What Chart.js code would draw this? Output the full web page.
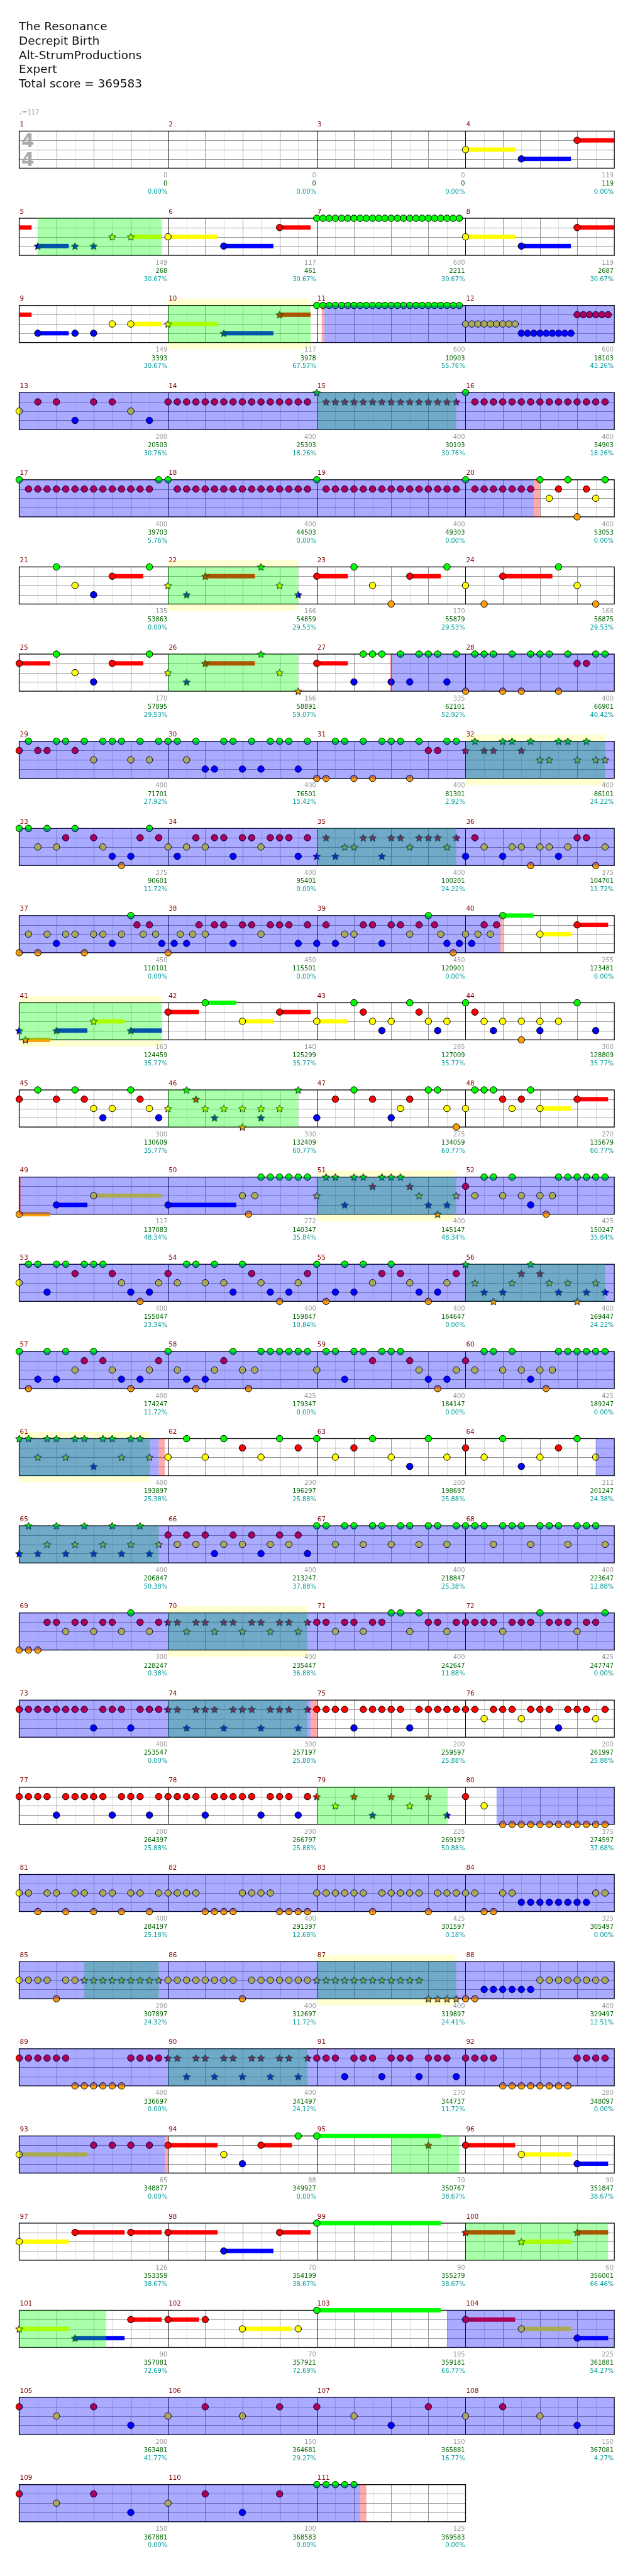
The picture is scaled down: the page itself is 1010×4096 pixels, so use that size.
<!DOCTYPE html>
<html>
<head>
<meta charset="utf-8">
<script src="https://cdn.jsdelivr.net/npm/chart.js@4.4.1/dist/chart.umd.min.js"></script>
<style>
  html, body { margin: 0; padding: 0; background: #fff; }
  canvas { display: block; }
</style>
</head>
<body>
<canvas id="chart" width="1010" height="4096"></canvas>
<script>
// ---- song info ----
const TITLE_LINES = ['The Resonance', 'Decrepit Birth', 'Alt-StrumProductions', 'Expert', 'Total score = 369583'];
const TEMPO = 117;
const MEASURE_COUNT = 111;

// notes per measure: "<tick><frets><sustain ticks>", 12 ticks per beat, 48 per measure
// frets: G R Y B O
const NOTES = [
  '', '', '', '0Y16 18B16 36R16',
  '6B10 18B 24B 30Y 36Y10', '0Y16 18B16 36R10',
  '0G 2G 4G 6G 8G 10G 12G 14G 16G 18G 20G 22G 24G 26G 28G 30G 32G 34G 36G 38G 40G 42G 44G 46G',
  '0Y16 18B16 36R16',
  '6B10 18B 24B 30Y 36Y10', '0Y16 18B16 36R10',
  '0G 2G 4G 6G 8G 10G 12G 14G 16G 18G 20G 22G 24G 26G 28G 30G 32G 34G 36G 38G 40G 42G 44G 46G',
  '0Y 2Y 4Y 6Y 8Y 10Y 12Y 14Y 16Y 18B 20B 22B 24B 26B 28B 30B 32B 34B 36R 38R 40R 42R 44R 46R',
  '0Y 6R 12R 18B 24R 30R 36Y 42B',
  '0R 3R 6R 9R 12R 15R 18R 21R 24R 27R 30R 33R 36R 39R 42R 45R',
  '0G 3R 6R 9R 12R 15R 18R 21R 24R 27R 30R 33R 36R 39R 42R 45R',
  '0G 3R 6R 9R 12R 15R 18R 21R 24R 27R 30R 33R 36R 39R 42R 45R',
  '0G 3R 6R 9R 12R 15R 18R 21R 24R 27R 30R 33R 36R 39R 42R 45G',
  '0G 3R 6R 9R 12R 15R 18R 21R 24R 27R 30R 33R 36R 39R 42R 45R',
  '0G 3R 6R 9R 12R 15R 18R 21R 24R 27R 30R 33R 36R 39R 42R 45R',
  '0G 3R 6R 9R 12R 15R 18R 21R 24G 27Y 30R 33G 36O 39R 42Y 45G',
  '12G 18Y 24B 30R10 42G', '0Y 6B 12R16 30G 36Y 42B',
  '0R10 12G 18Y 24O 30R10 42G', '0Y 6O 12R16 30G 36Y 42O',
  '0R10 12G 18Y 24B 30R10 42G', '0Y 6B 12R16 30G 36Y 42O',
  '0R10 12B 15G 18G 21G 24B 27G 30B 33G 36G 39G 42B 45G',
  '0O 3G 6G 9G 12O 15G 18O 21G 24G 27G 30O 33G 36R 39R 42G 45G',
  '0R 3G 6R 9R 12G 15G 18R 21G 24Y 27G 30G 33G 36Y 39G 42Y 45G',
  '0G 3G 6Y 9G 12B 15B 18G 21G 24B 27G 30B 33G 36G 39G 42B 45G',
  '0O 3O 6G 9G 12O 15G 18O 21G 24G 27G 30O 33G 36R 39R 42G 45G',
  '0R 3G 6R 9R 12G 15G 18R 21G 24Y 27Y 30G 33G 36Y 39G 42Y 45Y',
  '0G 3G 6Y 9G 12Y 15R 18G 24R 27Y 30B 33O 36B 39R 42G 45R',
  '0Y 3B 6Y 9R 12Y 15R 18R 21B 24R 27R 30Y 33R 36R 39R 42B 45R',
  '0B 3R 6B 9Y 12Y 15R 18R 21B 24R 27R 30Y 33R 36R 39R 42Y 45R',
  '0B 3R 6Y 12B 15Y 18Y 21O 24Y 27Y 30B 33Y 36R 39R 42O 45Y',
  '0O 3Y 6O 9Y 12B 15Y 18Y 21O 24Y 27Y 30B 33Y 36G 38R 40Y 42R 44Y 46B',
  '0O 2B 4Y 6B 8Y 10R 12Y 15R 18R 21B 24R 27R 30Y 33R 36R 39R 42B 45R',
  '0B 3R 6B 9Y 12Y 15R 18R 21B 24R 27R 30Y 33R 36G 38R 40Y 42B 44O 46B',
  '0Y 2B 4Y 6R 8Y 10R 12G10 24Y10 36R10',
  '0B 2O8 12B10 24Y10 36B10', '0R10 12G10 24Y10 36R10',
  '0Y10 12G 15R 18Y 21B 24Y 30G 33R 36Y 39B 42Y',
  '0G 3R 6Y 9B 12Y 18OY 24BY 30Y 36G 42B',
  '0R 6G 12R 18G 21R 24Y 27B 30Y 36G 39R 42Y 45B',
  '0Y 6G 9R 12Y 15B 18Y 24YO 30YB 36Y 42G',
  '0B 6R 12G 18R 24B 27Y 30R 36G 39G 42Y 45O',
  '0Y 3G 6G 9G 12R 15Y 18R 21G 24Y10 36R10',
  '0O10 12B10 24Y22',
  '0B22 24Y 26O 28Y 30G 33G 36G 39G 42G 45G',
  '0Y 3G 6G 9B 12G 15G 18R 21G 24G 27G 30R 33Y 36B 39O 42B 45Y',
  '0R 3Y 6G 9G 12Y 15G 18Y 21B 24Y 26O 28Y 30G 33G 36G 39G 42G 45G',
  '0Y 3G 6G 9B 12G 15G 18R 21G 24G 27G 30R 33Y 36B 39O 42B 45Y',
  '0R 3Y 6G 9G 12Y 15G 18Y 21B 24G 27R 30Y 33B 36O 39B 42Y 45R',
  '0G 3O 6B 9G 12B 15G 18Y 21R 24G 27R 30Y 33B 36O 39B 42Y 45R',
  '0G 3Y 6B 9O 12B 15Y 18R 21G 24R 27Y 30B 33Y 36O 39B 42Y 45B',
  '0G 3O 6B 9G 12B 15G 18Y 21R 24G 27R 30Y 33B 36O 39B 42Y 45R',
  '0G 3Y 6B 9O 12B 15Y 18R 21G 24Y 26O 28Y 30G 33G 36G 39G 42G 45G',
  '0Y 3G 6G 9B 12G 15G 18R 21G 24G 27G 30R 33Y 36B 39O 42B 45Y',
  '0R 3Y 6G 9G 12Y 15G 18Y 21B 24Y 26O 28Y 30G 33G 36G 39G 42G 45G',
  // 61-64
  '0G 3G 6Y 9G 12G 15Y 18G 21G 24B 27G 30G 33Y 36G 39G 42Y',
  '0Y 6G 12Y 18G 24R 30Y 36G 42R',
  '0G 6Y 12R 18G 24Y 30B 36G 42Y',
  '0R 6Y 12G 18B 24Y 30R 36G 42Y',
  // 65-68
  '0B 3G 6B 9Y 12G 15B 18Y 21G 24B 27Y 30G 33B 36Y 39G 42B 45Y',
  '0R 3Y 6R 9Y 12R 15B 18Y 21R 24Y 27R 30B 33Y 36R 39Y 42R 45B',
  '0G 3G 6Y 9G 12G 15Y 18G 21G 24Y 27G 30G 33Y 36G 39G 42Y 45G',
  '0G 3G 6G 9Y 12G 15G 18G 21Y 24G 27G 30G 33Y 36G 39G 42G 45Y',
  // 69-72
  '0O 3O 6O 9R 12R 15Y 18R 21R 24Y 27R 30R 33Y 36G 39R 42Y 45R',
  '0R 3R 6Y 9R 12R 15Y 18R 21R 24Y 27R 30R 33Y 36R 39R 42Y 45R',
  '0R 3R 6Y 9R 12R 15Y 18R 21R 24G 27G 30Y 33G 36R 39R 42Y 45R',
  '0R 3R 6R 9R 12Y 15R 18R 21R 24G 27R 30R 33R 36Y 39R 42R 45G',
  // 73-76
  '0R 3R 6R 9R 12R 15R 18R 21R 24B 27R 30R 33R 36B 39R 42R 45R',
  '0R 3R 6B 9R 12R 15R 18B 21R 24R 27R 30B 33R 36R 39R 42B 45R',
  '0R 3R 6R 9R 12B 15R 18R 21R 24R 27R 30B 33R 36R 39R 42R 45R',
  '0R 3R 6Y 9R 12R 15R 18Y 21R 24R 27R 30B 33R 36R 39R 42Y 45R',
  // 77-80
  '0R 3R 6R 9R 12B 15R 18R 21R 24R 27R 30B 33R 36R 39R 42B 45R',
  '0R 3R 6R 9R 12B 15R 18R 21R 24R 27R 30B 33R 36R 39R 42B 45R',
  '0R 6Y 12R 18B 24R 30Y 36R 42B',
  '0R 6Y 12O 15O 18O 21O 24O 27O 30O 33O 36O 39O 42O 45O',
  // 81-84
  '0Y 3Y 6O 9Y 12Y 15O 18Y 21Y 24O 27Y 30Y 33O 36Y 39Y 42O 45Y',
  '0Y 3Y 6Y 9Y 12O 15O 18O 21O 24Y 27Y 30Y 33Y 36O 39O 42O 45O',
  '0Y 3Y 6Y 9Y 12Y 15Y 18O 21Y 24Y 27Y 30Y 33Y 36O 39Y 42Y 45Y',
  '0Y 3Y 6O 9O 12Y 15Y 18B 21B 24B 27B 30B 33B 36B 39B 42Y 45Y',
  // 85-88
  '0Y 3Y 6Y 9Y 12O 15Y 18Y 21Y 24Y 27Y 30Y 33Y 36Y 39Y 42Y 45Y',
  '0Y 3Y 6Y 9Y 12Y 15Y 18Y 21Y 24O 27Y 30Y 33Y 36Y 39Y 42Y 45Y',
  '0Y 3Y 6Y 9Y 12Y 15Y 18Y 21Y 24Y 27Y 30Y 33Y 36O 39O 42O 45O',
  '0O 3O 6B 9B 12B 15B 18B 21B 24Y 27Y 30Y 33Y 36Y 39Y 42Y 45Y',
  // 89-92
  '0R 3R 6R 9R 12R 15R 18O 21O 24O 27O 30O 33O 36R 39R 42R 45R',
  '0R 3R 6B 9R 12R 15B 18R 21R 24B 27R 30R 33B 36R 39R 42B 45R',
  '0R 3R 6R 9B 12R 15R 18R 21B 24R 27R 30R 33B 36R 39R 42R 45B',
  '0R 3R 6R 9R 12O 15O 18O 21O 24O 27O 30O 33O 36R 39R 42R 45R',
  // 93-96
  '0Y22 24R 30R 36R 42R', '0R16 18Y 24B 30R10 42G', '0G40 36R', '0R16 18Y16 36B10',
  // 97-100
  '0Y16 18R16 36R10', '0R16 18B16 36R10', '0G40', '0R16 18Y16 36R10',
  // 101-104
  '0Y16 18B16 36R10', '0R10 12R 24Y16 42Y', '0G40', '0R16 18Y16 36B10',
  // 105-108
  '0R 12Y 24R 36B', '0Y 12R 24Y 36R', '0R 12Y 24B 36R', '0Y 12R 24Y 36B',
  // 109-111
  '0R 12Y 24R 36B', '0Y 12R 24B 36R', '0G 3G 6G 9G 12G',
];

const MEASURE_SCORE = [0, 0, 0, 119, 149, 117, 600, 119, 149, 117, 600, 600, 200, 400, 400, 400, 400, 400, 400, 400,
  135, 166, 170, 166, 170, 166, 335, 400, 400, 400, 400, 400, 375, 400, 400, 375, 450, 450, 450, 255,
  163, 140, 285, 300, 300, 300, 275, 270, 117, 272, 400, 425, 400, 400, 400, 400, 400, 425, 400, 425,
  400, 200, 200, 212, 400, 400, 400, 400, 300, 400, 400, 425, 400, 300, 200, 200, 200, 200, 225, 375,
  400, 400, 425, 325, 200, 400, 400, 400, 400, 400, 270, 280, 65, 88, 70, 90, 126, 70, 90, 60,
  90, 70, 105, 225, 200, 150, 150, 150, 150, 100, 125];
const TOTAL_SCORE = [0, 0, 0, 119, 268, 461, 2211, 2687, 3393, 3978, 10903, 18103, 20503, 25303, 30103, 34903, 39703, 44503, 49303, 53053,
  53863, 54859, 55879, 56875, 57895, 58891, 62101, 66901, 71701, 76501, 81301, 86101, 90601, 95401, 100201, 104701, 110101, 115501, 120901, 123481,
  124459, 125299, 127009, 128809, 130609, 132409, 134059, 135679, 137083, 140347, 145147, 150247, 155047, 159847, 164647, 169447, 174247, 179347, 184147, 189247,
  193897, 196297, 198697, 201247, 206847, 213247, 218847, 223647, 228247, 235447, 242647, 247747, 253547, 257197, 259597, 261997, 264397, 266797, 269197, 274597,
  284197, 291397, 301597, 305497, 307897, 312697, 319897, 329497, 336697, 341497, 344737, 348097, 348877, 349927, 350767, 351847, 353359, 354199, 355279, 356001,
  357081, 357921, 359181, 361881, 363481, 364681, 365881, 367081, 367881, 368583, 369583];
const PERCENT = ['0.00', '0.00', '0.00', '0.00', '30.67', '30.67', '30.67', '30.67', '30.67', '67.57', '55.76', '43.26', '30.76', '18.26', '30.76', '18.26', '5.76', '0.00', '0.00', '0.00',
  '0.00', '29.53', '29.53', '29.53', '29.53', '59.07', '52.92', '40.42', '27.92', '15.42', '2.92', '24.22', '11.72', '0.00', '24.22', '11.72', '0.00', '0.00', '0.00', '0.00',
  '35.77', '35.77', '35.77', '35.77', '35.77', '60.77', '60.77', '60.77', '48.34', '35.84', '48.34', '35.84', '23.34', '10.84', '0.00', '24.22', '11.72', '0.00', '0.00', '0.00',
  '25.38', '25.88', '25.88', '24.38', '50.38', '37.88', '25.38', '12.88', '0.38', '36.88', '11.88', '0.00', '0.00', '25.88', '25.88', '25.88', '25.88', '25.88', '50.88', '37.68',
  '25.18', '12.68', '0.18', '0.00', '24.32', '11.72', '24.41', '12.51', '0.00', '24.12', '11.72', '0.00', '0.00', '0.00', '38.67', '38.67', '38.67', '38.67', '38.67', '66.46',
  '72.69', '72.69', '66.77', '54.27', '41.77', '29.27', '16.77', '4.27', '0.00', '0.00', '0.00'];

// [startMeasure, startTick, endMeasure, endTick]
const PHRASES = [[5, 6, 5, 46], [10, 0, 10, 46], [15, 0, 15, 45], [22, 0, 22, 42], [26, 0, 26, 42], [32, 0, 32, 45],
  [35, 0, 35, 45], [41, 0, 41, 46], [46, 0, 46, 42], [51, 0, 51, 45], [56, 0, 56, 45],
  [61, 0, 61, 42], [65, 0, 65, 45], [70, 0, 70, 45], [74, 0, 74, 45], [79, 0, 79, 42], [85, 21, 85, 45],
  [87, 0, 87, 45], [90, 0, 90, 45], [95, 24, 95, 46], [100, 0, 100, 46], [101, 0, 101, 28]];
const HIGHLIGHTS = [[10, 0, 10, 46], [22, 0, 22, 42], [32, 0, 32, 45], [41, 0, 41, 46], [51, 0, 51, 45],
  [61, 0, 61, 42], [70, 0, 70, 45], [87, 0, 87, 45]];
const ACTIVATIONS = [[11, 2.4, 20, 22], [27, 24, 40, 11.2], [49, 0, 61, 45], [64, 42, 74, 46], [80, 10, 93, 47],
  [103, 42, 111, 14]];
const SQUEEZES = [[11, 1.6, 11, 2.4], [20, 22, 20, 24], [40, 11.2, 40, 12], [27, 23.6, 27, 24.2], [49, 0, 49, 0.5],
  [61, 45, 61, 47], [74, 46, 74, 48], [93, 47, 94, 0], [111, 14, 111, 16]];

// ---- layout (reference pixels, scaled by S) ----
const S = 0.986;
const W = 1010, H = 4096;
const LEFT = 31, MEAS_W = 240, TOP0 = 205.7, ROW_PITCH = 141, LANE_H = 15;
const ROW_LANES = ROW_PITCH / LANE_H;
const Y_MIN = -TOP0 / LANE_H;
const Y_MAX = Y_MIN + H / (LANE_H * S);

const FRET_COLORS = ['#00ff00', '#ff0000', '#ffff00', '#0000ff', '#ffa000'];
const LANE_OF = { G: 0, R: 1, Y: 2, B: 3, O: 4 };

const rowOf = m => Math.floor((m - 1) / 4);
const absBeat = (m, tick) => (m - 1) * 4 + tick / 12;
const yOf = (row, lane) => row * ROW_LANES + lane;
const rowBeats = r => Math.min(16, (MEASURE_COUNT - r * 4) * 4);

function parseMeasure(str) {
  const out = [];
  str.split(' ').filter(Boolean).forEach(tok => {
    const mm = tok.match(/^(\d+)([GRYBO]+)(\d*)$/);
    for (const c of mm[2]) out.push({ tick: +mm[1], lane: LANE_OF[c], len: mm[3] ? +mm[3] : 0 });
  });
  return out;
}

// split an absolute beat range into per-row pieces
function segments(a, b) {
  const out = [];
  for (let r = Math.floor(a / 16); r * 16 < b; r++) {
    const x1 = Math.max(a, r * 16) - r * 16;
    const x2 = Math.min(b, r * 16 + 16, MEASURE_COUNT * 4) - r * 16;
    if (x2 > x1) out.push({ row: r, x1, x2 });
  }
  return out;
}
const rangeSegs = ([m1, t1, m2, t2]) => segments(absBeat(m1, t1), absBeat(m2, t2));
const inPhrase = pos => PHRASES.some(p => pos >= absBeat(p[0], p[1]) - 1e-6 && pos <= absBeat(p[2], p[3]) + 1e-6);

function makeStar(color) {
  const c = document.createElement('canvas');
  const size = 15;
  c.width = size; c.height = size;
  const g = c.getContext('2d');
  const R = 6.2 * S, r = R * 0.45, cx = size / 2, cy = size / 2 + 0.6;
  g.beginPath();
  for (let i = 0; i < 10; i++) {
    const rad = i % 2 ? r : R;
    const ang = -Math.PI / 2 + i * Math.PI / 5;
    g.lineTo(cx + rad * Math.cos(ang), cy + rad * Math.sin(ang));
  }
  g.closePath();
  g.fillStyle = color; g.fill();
  g.strokeStyle = '#000'; g.lineWidth = 1; g.stroke();
  return c;
}
const STAR_IMGS = FRET_COLORS.map(makeStar);

// build notes
const points = [], styles = [], fills = [], sustains = [];
NOTES.forEach((str, i) => {
  const m = i + 1;
  parseMeasure(str).forEach(n => {
    const pos = absBeat(m, n.tick);
    const row = Math.floor(pos / 16);
    const star = inPhrase(pos);
    points.push({ x: pos - row * 16, y: yOf(row, n.lane) });
    styles.push(star ? STAR_IMGS[n.lane] : 'circle');
    fills.push(FRET_COLORS[n.lane]);
    if (n.len) sustains.push({ a: pos, b: pos + n.len / 12, lane: n.lane });
  });
});

function fillRange(chart, seg, lane1, lane2, color) {
  const xs = chart.scales.x, ys = chart.scales.y;
  const x1 = xs.getPixelForValue(seg.x1), x2 = xs.getPixelForValue(seg.x2);
  const y1 = ys.getPixelForValue(yOf(seg.row, lane1)), y2 = ys.getPixelForValue(yOf(seg.row, lane2));
  chart.ctx.fillStyle = color;
  chart.ctx.fillRect(x1, y1, x2 - x1, y2 - y1);
}

function vline(ctx, x, y1, y2, color, w) {
  ctx.strokeStyle = color; ctx.lineWidth = w;
  ctx.beginPath(); ctx.moveTo(Math.round(x) + 0.5, y1); ctx.lineTo(Math.round(x) + 0.5, y2); ctx.stroke();
}
function hline(ctx, x1, x2, y, color, w) {
  ctx.strokeStyle = color; ctx.lineWidth = w;
  ctx.beginPath(); ctx.moveTo(x1, Math.round(y) + 0.5); ctx.lineTo(x2, Math.round(y) + 0.5); ctx.stroke();
}

const staffPlugin = {
  id: 'staff',
  beforeDraw(chart) {
    const ctx = chart.ctx;
    ctx.save();
    ctx.fillStyle = '#fff';
    ctx.fillRect(0, 0, chart.width, chart.height);
    ctx.restore();
  },
  beforeDatasetsDraw(chart) {
    const ctx = chart.ctx, xs = chart.scales.x, ys = chart.scales.y;
    const rows = Math.ceil(MEASURE_COUNT / 4);
    ctx.save();
    HIGHLIGHTS.forEach(h => rangeSegs(h).forEach(seg => fillRange(chart, seg, -0.71, 4.71, '#ffffd0')));
    for (let r = 0; r < rows; r++) {
      const nb = rowBeats(r);
      const x0 = xs.getPixelForValue(0), xe = xs.getPixelForValue(nb);
      const yt = ys.getPixelForValue(yOf(r, 0)), yb = ys.getPixelForValue(yOf(r, 4));
      ctx.fillStyle = '#fff';
      ctx.fillRect(x0, yt, xe - x0, yb - yt);
      for (let b = 0.5; b < nb; b += 1) vline(ctx, xs.getPixelForValue(b), yt, yb, '#dcdcdc', 1);
      for (let lane = 1; lane <= 3; lane++) hline(ctx, x0, xe, ys.getPixelForValue(yOf(r, lane)), '#999', 1);
      for (let b = 1; b < nb; b++) {
        vline(ctx, xs.getPixelForValue(b), yt, yb, b % 4 === 0 ? '#000' : '#999', 1);
      }
      ctx.strokeStyle = '#000'; ctx.lineWidth = 1.3;
      ctx.strokeRect(x0, yt, xe - x0, yb - yt);
    }
    // sustains
    sustains.forEach(s => segments(s.a, s.b).forEach(seg => {
      fillRange(chart, seg, s.lane - 0.235, s.lane + 0.235, FRET_COLORS[s.lane]);
    }));
    ctx.restore();
  },
  afterDatasetsDraw(chart) {
    const ctx = chart.ctx;
    ctx.save();
    PHRASES.forEach(p => rangeSegs(p).forEach(seg => fillRange(chart, seg, 0, 4, 'rgba(0,255,0,0.333)')));
    ACTIVATIONS.forEach(p => rangeSegs(p).forEach(seg => fillRange(chart, seg, 0, 4, 'rgba(0,0,255,0.333)')));
    SQUEEZES.forEach(p => rangeSegs(p).forEach(seg => fillRange(chart, seg, 0, 4, 'rgba(255,0,0,0.333)')));
    ctx.restore();
  },
  afterDraw(chart) {
    const ctx = chart.ctx, xs = chart.scales.x, ys = chart.scales.y;
    ctx.save();
    // header
    ctx.fillStyle = '#111';
    ctx.font = `${18.7 * S}px "DejaVu Sans"`;
    ctx.textBaseline = 'alphabetic';
    TITLE_LINES.forEach((t, i) => ctx.fillText(t, 30.5 * S, (48.8 + i * 23.1) * S));
    // tempo and time signature
    ctx.fillStyle = '#999';
    ctx.font = `${10 * S}px "DejaVu Sans"`;
    ctx.fillText('\u2669=' + TEMPO, LEFT * S, 185 * S);
    ctx.fillStyle = '#aaa';
    ctx.font = `bold ${30 * S}px "DejaVu Sans"`;
    ctx.fillText('4', 34.5 * S, ys.getPixelForValue(yOf(0, 1)) + 11 * S);
    ctx.fillText('4', 34.5 * S, ys.getPixelForValue(yOf(0, 3)) + 11 * S);
    // measure numbers and scores
    for (let m = 1; m <= MEASURE_COUNT; m++) {
      const r = rowOf(m);
      const xStart = xs.getPixelForValue(((m - 1) % 4) * 4);
      const xEnd = xs.getPixelForValue(((m - 1) % 4) * 4 + 4);
      const yt = ys.getPixelForValue(yOf(r, 0)), yb = ys.getPixelForValue(yOf(r, 4));
      ctx.font = `${10.5 * S}px "DejaVu Sans"`;
      ctx.textAlign = 'left';
      ctx.fillStyle = '#800000';
      ctx.fillText(String(m), xStart + 1, yt - 7.5 * S);
      if (MEASURE_SCORE[m - 1] === undefined) continue;
      ctx.textAlign = 'right';
      ctx.font = `${10 * S}px "DejaVu Sans"`;
      ctx.fillStyle = '#999';
      ctx.fillText(String(MEASURE_SCORE[m - 1]), xEnd - 1, yb + 15 * S);
      ctx.fillStyle = '#006400';
      ctx.fillText(String(TOTAL_SCORE[m - 1]), xEnd - 1, yb + 28.3 * S);
      ctx.fillStyle = '#009c9c';
      ctx.fillText(PERCENT[m - 1] + '%', xEnd - 1, yb + 41.3 * S);
    }
    ctx.restore();
  },
};

const ctx = document.getElementById('chart').getContext('2d');
new Chart(ctx, {
  type: 'scatter',
  data: {
    datasets: [{
      data: points,
      pointStyle: styles,
      pointBackgroundColor: fills,
      pointBorderColor: '#000',
      pointBorderWidth: 1,
      pointRadius: 5.3 * S,
      pointHoverRadius: 5.3 * S,
      clip: false,
    }],
  },
  options: {
    responsive: false,
    animation: false,
    devicePixelRatio: 1,
    events: [],
    layout: { padding: { left: LEFT * S, right: W - (LEFT + 4 * MEAS_W) * S, top: 0, bottom: 0 } },
    scales: {
      x: { type: 'linear', min: 0, max: 16, display: false },
      y: { type: 'linear', min: Y_MIN, max: Y_MAX, reverse: true, display: false },
    },
    plugins: { legend: { display: false }, tooltip: { enabled: false } },
  },
  plugins: [staffPlugin],
});
</script>
</body>
</html>
